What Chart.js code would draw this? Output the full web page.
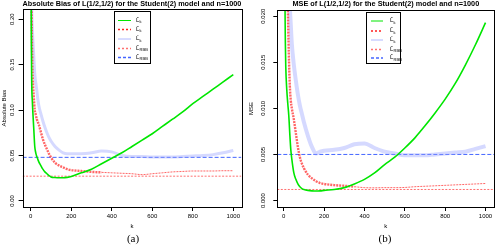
<!DOCTYPE html>
<html><head><meta charset="utf-8">
<script src="https://cdn.jsdelivr.net/npm/chart.js@4.4.1/dist/chart.umd.min.js"></script>
<style>
html,body{margin:0;padding:0;background:#fff;width:496px;height:246px;overflow:hidden}
.c{position:absolute;top:0;width:248px;height:246px}
.cap{position:absolute;top:232px;font-family:"Liberation Serif","DejaVu Serif",serif;font-size:11px;line-height:12px;color:#000;width:40px;text-align:center}
</style></head><body>
<div class="c" style="left:0"><canvas id="a" width="248" height="246"></canvas></div>
<div class="c" style="left:248px"><canvas id="b" width="248" height="246"></canvas></div>
<div class="cap" style="left:113px">(a)</div>
<div class="cap" style="left:365px">(b)</div>
<script>
// ---------- data ----------
const kGrid = [1,3,5,8,10,15,20,25,30,35,40,50,60,70,80,90,100,120,140,160,180,200,250,300,350,400,450,500,550,600,650,700,750,800,850,900,950,1000];

// Absolute bias
const biasHat   = [0.30,0.18,0.13,0.11,0.10,0.080,0.060,0.053,0.049,0.046,0.043,0.039,0.035,0.032,0.030,0.028,0.0265,0.0258,0.0255,0.0255,0.026,0.027,0.031,0.035,0.041,0.047,0.053,0.060,0.067,0.074,0.082,0.090,0.098,0.107,0.115,0.123,0.131,0.139];
const biasTilde = [0.40,0.26,0.20,0.15,0.135,0.115,0.100,0.095,0.090,0.087,0.084,0.076,0.068,0.062,0.057,0.052,0.048,0.042,0.039,0.037,0.035,0.034,0.033,0.032,0.0315,0.031,0.0305,0.030,0.029,0.030,0.031,0.032,0.0325,0.033,0.033,0.033,0.0333,0.0333];
const biasBar   = [0.35,0.25,0.21,0.19,0.18,0.16,0.14,0.13,0.122,0.112,0.105,0.096,0.088,0.081,0.075,0.070,0.066,0.060,0.056,0.053,0.052,0.052,0.052,0.053,0.055,0.054,0.050,0.049,0.049,0.0485,0.0485,0.0485,0.049,0.0495,0.050,0.051,0.053,0.0556];
const biasRef   = [0.0273, 0.048];

// MSE
const mseHat    = [0.06,0.035,0.024,0.017,0.0145,0.012,0.0105,0.0092,0.0072,0.0055,0.0045,0.0030,0.0023,0.0018,0.0015,0.0013,0.0012,0.0011,0.00105,0.00103,0.00105,0.0011,0.0012,0.0014,0.0018,0.0023,0.0030,0.0039,0.0047,0.0057,0.0068,0.0081,0.0095,0.0110,0.0127,0.0147,0.0169,0.0193];
const mseTilde  = [0.10,0.06,0.045,0.035,0.031,0.025,0.021,0.016,0.0125,0.0108,0.0100,0.0088,0.0073,0.0058,0.0047,0.0040,0.0035,0.0028,0.0024,0.0021,0.0019,0.0018,0.00167,0.0016,0.0015,0.0014,0.00138,0.0014,0.0014,0.00142,0.0015,0.00155,0.0016,0.00165,0.0017,0.00175,0.0018,0.00185];
const mseBar    = [0.12,0.07,0.05,0.04,0.035,0.03,0.026,0.023,0.021,0.019,0.017,0.0147,0.013,0.0115,0.0103,0.0094,0.0085,0.0070,0.0058,0.0051,0.0053,0.0054,0.0055,0.0057,0.0061,0.0062,0.0057,0.0053,0.0051,0.0049,0.0049,0.0049,0.0050,0.0051,0.0052,0.0053,0.0056,0.0059];
const mseRef    = [0.0012, 0.005];

const xTicks = [0,200,400,600,800,1000];
const xTickLabels = ["0","200","400","600","800","1000"];
const biasTicks = [0.00,0.05,0.10,0.15,0.20];
const biasTickLabels = ["0.00","0.05","0.10","0.15","0.20"];
const mseTicks = [0.000,0.005,0.010,0.015,0.020];
const mseTickLabels = ["0.000","0.005","0.010","0.015","0.020"];

const legendMain = ["L\u0302","L\u0303","L\u0304","L\u0303","L\u0302"];
const legendSub  = ["k","k","k","RBB","RBB"];
const titleA = "Absolute Bias of L(1/2,1/2) for the Student(2) model and n=1000";
const titleB = "MSE of L(1/2,1/2) for the Student(2) model and n=1000";

// ---------- drawing ----------
const FONT = '"Liberation Sans", Arial, sans-serif';

function pts(arr){ return kGrid.map((k,i)=>({x:k,y:arr[i]})); }

function makeDatasets(hat, tilde, bar, ref, xMin, xMax, bandW){
  return [
    {label: legendMain[0]+legendSub[0], data: pts(hat), borderColor:'#00e600', borderWidth:1.6, lgW:1, lgDash:[]},
    {label: legendMain[1]+legendSub[1], data: pts(tilde), borderColor:'rgba(255,0,0,0.6)', borderDash:[2,1],
      segment:{borderWidth: c => c.p0.parsed.x < 320 ? 2.4 : 1}, borderWidth:2.4, lgColor:'#ff2020', lgW:1.3, lgDash:[2,2]},
    {label: legendMain[2]+legendSub[2], data: pts(bar), borderColor:'rgba(150,160,255,0.4)', borderWidth:bandW, lgColor:'#b0b8ff', lgW:1, lgDash:[]},
    {label: legendMain[3]+legendSub[3], data: [{x:xMin,y:ref[0]},{x:xMax,y:ref[0]}], borderColor:'#ff7070', borderWidth:1, borderDash:[2,1.5], lgW:1.3, lgDash:[2,2]},
    {label: legendMain[4]+legendSub[4], data: [{x:xMin,y:ref[1]},{x:xMax,y:ref[1]}], borderColor:'#4466ff', borderWidth:1, borderDash:[4,2], lgW:1.3, lgDash:[3,2]}
  ];
}

const decorPlugin = {
  id:'decor',
  afterDraw(chart, args, o){
    const ctx = chart.ctx, a = chart.chartArea;
    ctx.save();
    ctx.strokeStyle='#000'; ctx.lineWidth=1; ctx.setLineDash([]);
    ctx.strokeRect(Math.round(a.left)+0.5, Math.round(a.top)+0.5, Math.round(a.right-a.left), Math.round(a.bottom-a.top));
    const ys = chart.scales.y;
    ctx.fillStyle='#000'; ctx.font = '6px '+FONT; ctx.textAlign='center'; ctx.textBaseline='middle';
    o.ticks.forEach((v,i)=>{
      const py = ys.getPixelForValue(v);
      ctx.save(); ctx.translate(o.labelX, py); ctx.rotate(-Math.PI/2);
      ctx.fillText(o.labels[i], 0, 0); ctx.restore();
    });
    const L = o.legend;
    ctx.fillStyle='#fff'; ctx.fillRect(L.x, L.y, L.w, L.h);
    ctx.strokeStyle='#000'; ctx.lineWidth=1;
    ctx.strokeRect(L.x+0.5, L.y+0.5, L.w, L.h);
    chart.data.datasets.forEach((ds,i)=>{
      const y = L.rows[i];
      ctx.strokeStyle = ds.lgColor || ds.borderColor; ctx.lineWidth = ds.lgW; ctx.setLineDash(ds.lgDash);
      ctx.beginPath(); ctx.moveTo(L.x0, y+0.5); ctx.lineTo(L.x1, y+0.5); ctx.stroke();
      ctx.setLineDash([]);
      ctx.fillStyle='#000'; ctx.textAlign='left'; ctx.textBaseline='middle';
      ctx.font = '6px '+FONT; ctx.fillText(legendMain[i], L.tx, y);
      ctx.font = '4px '+FONT; ctx.fillText(legendSub[i], L.tx+3.6, y+2.2);
    });
    ctx.restore();
  }
};

function makeChart(id, cfg){
  return new Chart(document.getElementById(id), {
    type:'line',
    data:{datasets: makeDatasets(cfg.hat,cfg.tilde,cfg.bar,cfg.ref,cfg.xMin,cfg.xMax,cfg.bandW)},
    options:{
      responsive:false, animation:false, devicePixelRatio:1,
      layout:{padding:{left:0,right:cfg.padR,top:0,bottom:15}},
      elements:{point:{radius:0}, line:{cubicInterpolationMode:'monotone', borderCapStyle:'butt'}},
      datasets:{line:{clip:0}},
      plugins:{
        legend:{display:false}, tooltip:{enabled:false},
        title:{display:true, text:cfg.title, fullSize:false, color:'#000',
          font:{family:FONT, size:7.3, weight:'bold'}, padding:{top:0,bottom:cfg.titlePadB}},
        decor:{ticks:cfg.yTicks, labels:cfg.yLabels, labelX:cfg.labelX, legend:cfg.legend}
      },
      scales:{
        x:{type:'linear', min:cfg.xMin, max:cfg.xMax,
          afterBuildTicks: s => { s.ticks = xTicks.map(v=>({value:v})); },
          afterFit: s => { s.height = 24; },
          border:{display:false},
          grid:{display:true, drawOnChartArea:false, drawTicks:true, tickLength:4, tickColor:'#000'},
          ticks:{color:'#000', font:{family:FONT, size:6}, padding:1.5, maxRotation:0, autoSkip:false,
            callback:(v,i)=> xTickLabels[i]},
          title:{display:true, text:'k', color:'#000', font:{family:FONT, size:6}, padding:{top:0,bottom:0.7}}
        },
        y:{type:'linear', min:cfg.yMin, max:cfg.yMax,
          afterBuildTicks: s => { s.ticks = cfg.yTicks.map(v=>({value:v})); },
          afterFit: s => { s.width = cfg.yW; },
          border:{display:false},
          grid:{display:true, drawOnChartArea:false, drawTicks:true, tickLength:4, tickColor:'#000'},
          ticks:{display:false},
          title:{display:true, text:cfg.yTitle, color:'#000', font:{family:FONT, size:6}, padding:{top:cfg.yTitlePad,bottom:0}}
        }
      }
    },
    plugins:[decorPlugin]
  });
}

makeChart('a', {
  hat:biasHat, tilde:biasTilde, bar:biasBar, ref:biasRef, bandW:3,
  xMin:-40, xMax:1040, yMin:-0.0066, yMax:0.211,
  yTicks:biasTicks, yLabels:biasTickLabels, labelX:12, yW:22.6, padR:6.6,
  title:titleA, titlePadB:0.4, yTitle:'Absolute Bias', yTitlePad:0.9,
  legend:{x:114, y:11, w:36, h:52, rows:[20,29,38.5,48,57], x0:118, x1:131, tx:136}
});
makeChart('b', {
  hat:mseHat, tilde:mseTilde, bar:mseBar, ref:mseRef, bandW:4,
  xMin:-32, xMax:1044, yMin:-0.0007, yMax:0.02065,
  yTicks:mseTicks, yLabels:mseTickLabels, labelX:15, yW:29.3, padR:1.6,
  title:titleB, titlePadB:1.4, yTitle:'MSE', yTitlePad:0,
  legend:{x:118, y:12, w:34, h:51, rows:[20.5,30.5,39.5,49,57.5], x0:123, x1:135, tx:142}
});
</script>
</body></html>
